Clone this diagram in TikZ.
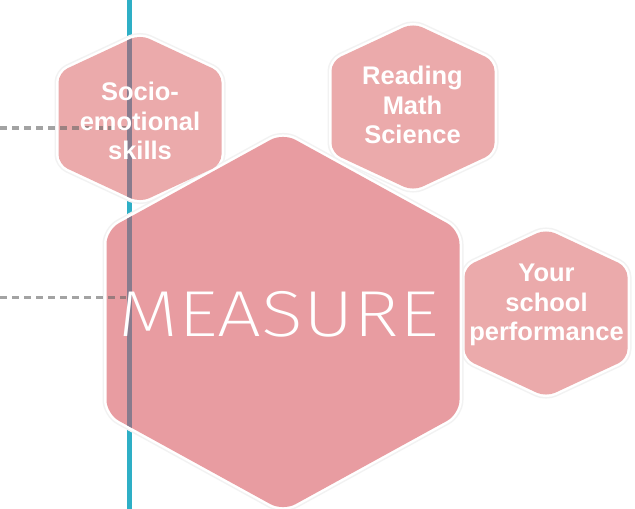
\documentclass[tikz,border=0pt]{standalone}
\usepackage{fontspec}
\setmainfont{Liberation Sans}
\IfFontExistsTF{Fira Sans ExtraLight}{\newfontfamily\thinfont{Fira Sans ExtraLight}}{\IfFontExistsTF{Fira Sans Light}{\newfontfamily\thinfont{Fira Sans Light}}{\newfontfamily\thinfont{Fira Sans}}}
\newfontfamily\boldsans{Liberation Sans Bold}
\definecolor{bigpink}{HTML}{E89CA1}
\definecolor{smallpink}{HTML}{EBAAAB}
\definecolor{tealline}{HTML}{2EAFC6}
\definecolor{lineover}{HTML}{887B8D}
% hexagon path: centre x, centre y, half width, apex offset, side-vertex offset
\newcommand\hexagonpath[5]{(#1-#3,#2) -- (#1-#3,#2-#5) -- (#1,#2-#4) -- (#1+#3,#2-#5) -- (#1+#3,#2+#5) -- (#1,#2+#4) -- (#1-#3,#2+#5) -- cycle}
\tikzset{
  halo/.style={draw=black!5, line width=8pt},
  rim/.style={draw=white, line width=5pt},
  bighex/.style={fill=bigpink, rounded corners=14pt},
  smallhex/.style={fill=smallpink, rounded corners=10pt},
  smalltext/.style={font=\boldsans\fontsize{25.5}{29.5}\selectfont, text=white, align=center, inner sep=0pt},
  bigtext/.style={font=\thinfont\fontsize{65}{65}\selectfont, text=white, inner sep=0pt},
  guide/.style={draw=tealline, line width=4.5pt},
  guideover/.style={draw=lineover, line width=4.5pt},
  dashline/.style={draw=black!60, opacity=0.6, line width=3.5pt, dash pattern=on 7pt off 5pt}
}
\begin{document}
\begin{tikzpicture}[x=1pt,y=-1pt]
\useasboundingbox (0,0) rectangle (635,509);
\fill[white] (0,0) rectangle (635,509);
\coordinate (ltop) at (129.5,0);
\coordinate (lbot) at (129.5,509);
\draw[guide] (ltop) -- (lbot);
% halos
\foreach \cx/\cy in {140/118.5, 413/107, 546/313}{
  \draw[halo, rounded corners=10pt] \hexagonpath{\cx}{\cy}{81.5}{84}{46};
  \draw[rim, rounded corners=10pt] \hexagonpath{\cx}{\cy}{81.5}{84}{46};
}
\draw[halo, rounded corners=14pt] \hexagonpath{283}{322}{176.5}{189}{92};
\draw[rim, rounded corners=14pt] \hexagonpath{283}{322}{176.5}{189}{92};
% fills
\foreach \cx/\cy in {140/118.5, 413/107, 546/313}{
  \fill[smallhex] \hexagonpath{\cx}{\cy}{81.5}{84}{46};
}
\fill[bighex] \hexagonpath{283}{322}{176.5}{189}{92};
% guide line seen through the hexagons
\begin{scope}
  \clip[rounded corners=10pt] \hexagonpath{140}{118.5}{81.5}{84}{46};
  \draw[guideover] (ltop) -- (lbot);
\end{scope}
\begin{scope}
  \clip[rounded corners=14pt] \hexagonpath{283}{322}{176.5}{189}{92};
  \draw[guideover] (ltop) -- (lbot);
\end{scope}
% dashed leaders
\coordinate (d1s) at (0,128);
\coordinate (d1e) at (126,128);
\coordinate (d2s) at (0,297.5);
\coordinate (d2e) at (126,297.5);
\draw[dashline] (d1s) -- (d1e);
\draw[dashline] (d2s) -- (d2e);
% texts
\node[bigtext] (measure) at (278.5,314.5) {\scalebox{1.2}[1]{MEASURE}};
\node[smalltext] (socio) at (140,121) {Socio-\\emotional\\skills};
\node[smalltext] (rms) at (412.5,105) {Reading\\Math\\Science};
\node[smalltext] (school) at (546.5,305) {Your\\school\\performance};
\end{tikzpicture}
\end{document}
